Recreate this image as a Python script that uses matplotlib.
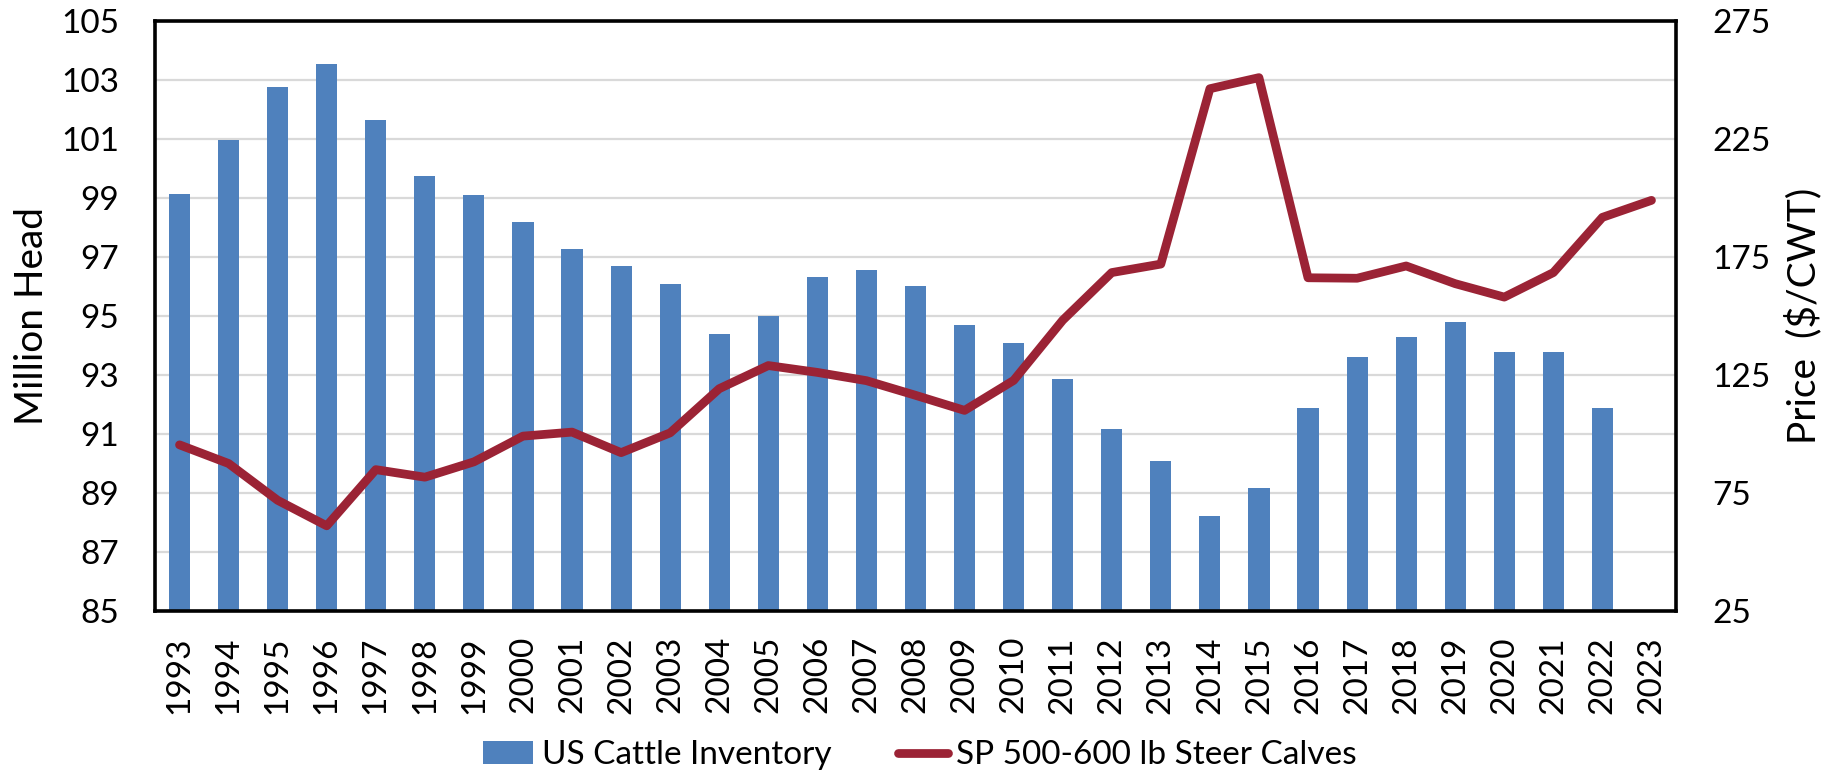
import numpy as np
import matplotlib
matplotlib.use("Agg")
import matplotlib.pyplot as plt

plt.rcParams['font.family'] = ['Lato', 'DejaVu Sans']

# Data
years = [str(y) for y in range(1993, 2024)]
inventory = [99.15, 100.96, 102.77, 103.54, 101.65, 99.73, 99.10, 98.17, 97.27, 96.70,
             96.09, 94.39, 94.99, 96.32, 96.56, 96.03, 94.71, 94.07, 92.87, 91.16,
             90.08, 88.23, 89.16, 91.88, 93.61, 94.28, 94.79, 93.79, 93.79, 91.88]
price = [95.4, 87.5, 71.9, 61.1, 84.9, 81.7, 88.2, 99.1, 100.8, 92.1,
         100.5, 119.2, 129.0, 126.1, 122.6, 116.4, 110.0, 122.7, 148.2, 168.4,
         172.0, 246.3, 251.0, 166.2, 166.0, 171.2, 163.7, 158.0, 168.4, 191.8,
         199.0]

left_ticks = list(range(85, 106, 2))
right_ticks = list(range(25, 276, 50))

BAR_COLOR = "#4F81BD"
LINE_COLOR = "#9B2335"
GRID_COLOR = "#D9D9D9"
FS = 24

fig = plt.figure(figsize=(18.46, 7.77), dpi=100)
ax = fig.add_axes([155 / 1846, 1 - 611 / 777, (1676 - 155) / 1846, (611 - 21) / 777])
ax2 = ax.twinx()

x = np.arange(len(years))
ax.bar(x[:len(inventory)], inventory, width=0.43, color=BAR_COLOR, label="US Cattle Inventory", zorder=2)
ax2.plot(x, price, color=LINE_COLOR, linewidth=6.3, solid_capstyle="round", solid_joinstyle="round",
         label="SP 500-600 lb Steer Calves")

ax.set_xlim(-0.5, len(years) - 0.5)
ax.set_ylim(85, 105)
ax2.set_ylim(25, 275)
ax.set_yticks(left_ticks)
ax2.set_yticks(right_ticks)
ax.set_xticks(x)
ax.set_xticklabels(years, rotation=90)

ax.yaxis.grid(True, color=GRID_COLOR, linewidth=1.6)
ax.set_axisbelow(True)

ax.tick_params(axis="y", length=0, pad=26, labelsize=FS)
ax.tick_params(axis="x", length=0, pad=18, labelsize=FS)
ax2.tick_params(axis="y", length=0, pad=26, labelsize=FS)

for s in ax.spines.values():
    s.set_linewidth(2.6)
    s.set_color("black")
for s in ax2.spines.values():
    s.set_visible(False)

ax.set_ylabel("Million Head", fontsize=28)
ax.yaxis.set_label_coords(-0.069, 0.5)
ax2.set_ylabel("Price  ($/CWT)", fontsize=28)
ax2.yaxis.set_label_coords(1.0717, 0.5)

h1, l1 = ax.get_legend_handles_labels()
h2, l2 = ax2.get_legend_handles_labels()
fig.legend(h1 + h2, l1 + l2, loc="center", bbox_to_anchor=(0.4985, 0.028), ncol=2, frameon=False,
           fontsize=FS, handlelength=1.5, handletextpad=0.25, columnspacing=2.0)

fig.savefig("out.png", dpi=100)
